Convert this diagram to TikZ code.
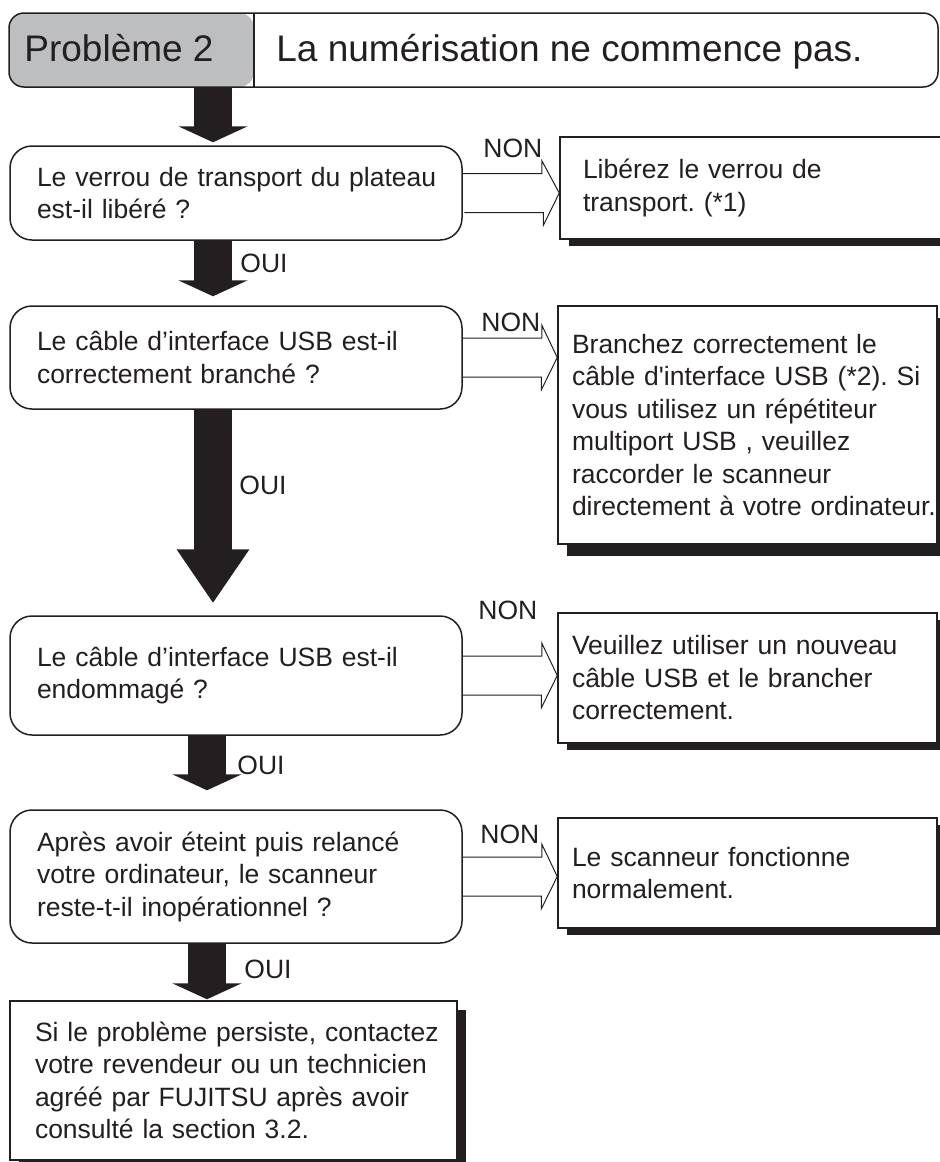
\documentclass[tikz,border=0pt]{standalone}
\usepackage{fontspec}
\setmainfont{Liberation Sans}
\usetikzlibrary{arrows.meta, shadows}

\definecolor{ink}{HTML}{231F20}
\definecolor{hdrgray}{HTML}{BCBEC0}
\newcommand{\body}{\fontsize{13.25pt}{16.25pt}\selectfont\frenchspacing}
\newcommand{\head}{\fontsize{18.5pt}{22pt}\selectfont}

\tikzset{
	question/.style={draw=ink, line width=0.75pt, rounded corners=11pt, fill=white, inner xsep=13.5pt, inner ysep=0pt, text width=199pt, align=left, font=\body, text=ink},
	answer/.style={draw=ink, line width=0.75pt, fill=white, inner xsep=7pt, inner ysep=0pt, text width=175.5pt, align=left, font=\body, text=ink, drop shadow={shadow xshift=4.5pt, shadow yshift=#1, fill=ink, opacity=1}},
	answer/.default=-3.5pt,
	lbl/.style={inner sep=0pt, anchor=base west, font=\body, text=ink},
	ouiarrow/.style={draw=ink, fill=ink, line width=19pt, -{Triangle[width=34.5pt,length=8pt]}},
	nonarrow/.style={draw=ink, line width=0.5pt},
}

\begin{document}
\begin{tikzpicture}[x=0.5pt,y=-0.5pt]%[line cap=round,line join=round]
\useasboundingbox (0,0) rectangle (939,1162);
	\node[draw=ink, line width=0.75pt, rounded corners=7.5pt, minimum width=464.5pt, minimum height=37pt, inner sep=0pt,
		path picture={\fill[hdrgray] (path picture bounding box.north west) rectangle ([xshift=122.5pt]path picture bounding box.south west);
		\draw[ink, line width=0.75pt] ([xshift=122.5pt]path picture bounding box.north west) -- ([xshift=122.5pt]path picture bounding box.south west);}] (hdr) at (473.5,50) {};
	\node[lbl, font=\head] (prob) at (24,61) {Problème 2};
	\node[lbl, font=\head] (title) at (276,61) {La numérisation ne commence pas.};

	\node[question, minimum height=47pt] (q1) at (236,193) {\mbox{Le verrou de transport du plateau}\\est-il libéré ?};
	\node[question, minimum height=51.5pt] (q2) at (236,357.5) {Le câble d’interface USB est-il\\correctement branché ?};
	\node[question, minimum height=59.5pt] (q3) at (236,675.5) {Le câble d’interface USB est-il\\endommagé ?};
	\node[question, minimum height=66.5pt] (q4) at (236,876.5) {Après avoir éteint puis relancé\\votre ordinateur, le scanneur\\reste-t-il inopérationnel ?};

	\node[answer, minimum height=51pt, text width=170.5pt, inner xsep=11.5pt] (a1) at (753.5,188) {Libérez le verrou de\\transport. (*1)};
	\node[answer=-6pt, minimum height=119pt] (a2) at (747.5,425) {Branchez correctement le\\\mbox{câble d\textquotesingle interface USB (*2). Si}\\vous utilisez un répétiteur\\multiport USB , veuillez\\raccorder le scanneur\\\mbox{directement à votre ordinateur.}};
	\node[answer, minimum height=65pt] (a3) at (747.5,678) {Veuillez utiliser un nouveau\\câble USB et le brancher\\correctement.};
	\node[answer, minimum height=55pt] (a4) at (747.5,873) {Le scanneur fonctionne\\normalement.};
	\node[answer=-4.5pt, minimum height=79.5pt, text width=198.5pt, inner xsep=12.5pt] (fin) at (233.5,1080.5) {\mbox{Si le problème persiste, contactez}\\votre revendeur ou un technicien\\agréé par FUJITSU après avoir\\consulté la section 3.2.};

	\coordinate (spine) at (213,0);
	\coordinate (spine2) at (207,0);
	\draw[ouiarrow, shorten >=1.5pt] (hdr.south -| spine) -- (q1.north -| spine);
	\draw[ouiarrow, shorten >=4.5pt] (q1.south -| spine) -- (q2.north -| spine);
	\draw[ouiarrow, -{Triangle[width=34.5pt,length=27pt]}, shorten >=6pt] (q2.south -| spine) -- (q3.north -| spine);
	\draw[ouiarrow, shorten >=9.5pt] (q3.south -| spine2) -- (q4.north -| spine2);
	\draw[ouiarrow, shorten >=0.5pt] (q4.south -| spine2) -- (fin.north -| spine2);
	\node[lbl] (oui1) at (240,272) {OUI};
	\node[lbl] (oui2) at (239,494) {OUI};
	\node[lbl] (oui3) at (237,774) {OUI};
	\node[lbl] (oui4) at (244,978) {OUI};

	\draw[nonarrow] (q1.east) ++(0,-19.5) -- ++(79,0) -- ++(0,-13) -- (q1.east -| a1.west) -- ++(-16,32.5) -- ++(0,-13) -- ++(-79,0);
	\draw[nonarrow] (q2.east) ++(0,-19.5) -- ++(79,0) -- ++(0,-13) -- (q2.east -| a2.west) -- ++(-16,32.5) -- ++(0,-13) -- ++(-79,0);
	\draw[nonarrow] (q3.east) ++(0,-19.5) -- ++(79,0) -- ++(0,-13) -- (q3.east -| a3.west) -- ++(-16,32.5) -- ++(0,-13) -- ++(-79,0);
	\draw[nonarrow] (q4.east) ++(0,-19.5) -- ++(79,0) -- ++(0,-13) -- (q4.east -| a4.west) -- ++(-16,32.5) -- ++(0,-13) -- ++(-79,0);
	\node[lbl] (non1) at (483,157) {NON};
	\node[lbl] (non2) at (481,331) {NON};
	\node[lbl] (non3) at (478,619) {NON};
	\node[lbl] (non4) at (480,843) {NON};
\end{tikzpicture}
\end{document}
